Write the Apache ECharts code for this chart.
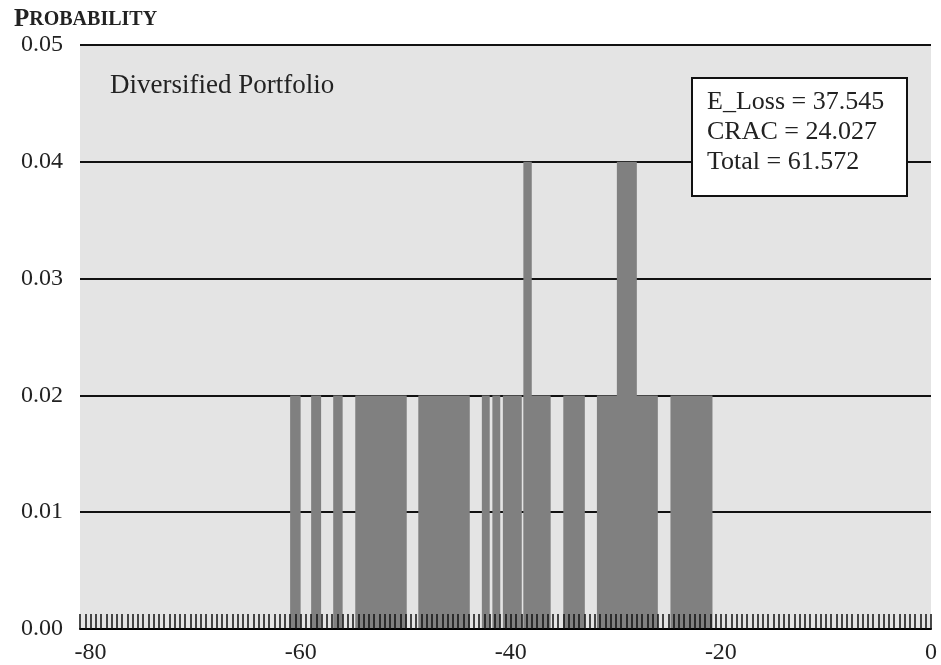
<!DOCTYPE html>
<html>
<head>
<meta charset="utf-8">
<script src="https://cdn.jsdelivr.net/npm/echarts@6/dist/echarts.min.js"></script>
<style>
  html, body { margin: 0; padding: 0; background: #ffffff; }
  #chart { width: 941px; height: 665px; }
</style>
</head>
<body>
<div id="chart"></div>
<script>
// ---- data ----
const binStart = [-61.0, -59.0, -56.9, -54.8, -48.8, -42.75, -41.75, -40.75, -38.75, -38.8, -35.0, -31.8, -29.9, -24.8];
const binEnd   = [-60.0, -58.05, -56.0, -49.9, -43.9, -42.0, -41.0, -38.95, -36.2, -38.0, -32.95, -26.0, -28.0, -20.8];
const prob     = [0.02, 0.02, 0.02, 0.02, 0.02, 0.02, 0.02, 0.02, 0.02, 0.04, 0.02, 0.02, 0.04, 0.02];
const xLabelValues = [-80, -60, -40, -20, 0];
const statNames  = ['E_Loss', 'CRAC', 'Total'];
const statValues = ['37.545', '24.027', '61.572'];
const panelTitle = 'Diversified Portfolio';
const yTitle = 'PROBABILITY';

const serif = '"Liberation Serif", "DejaVu Serif", serif';
const data = binStart.map((s, i) => [s, binEnd[i], prob[i]]);

const chart = echarts.init(document.getElementById('chart'), null, { renderer: 'canvas' });
chart.setOption({
  animation: false,
  backgroundColor: '#ffffff',
  grid: {
    left: 80, right: 10, top: 45, bottom: 35,
    show: true, backgroundColor: '#e4e4e4', borderWidth: 0
  },
  xAxis: {
    type: 'value',
    min: -81, max: 0, interval: 0.5,
    z: 5,
    axisLine: { show: true, onZero: false, lineStyle: { color: '#000', width: 2 } },
    axisTick: { show: true, inside: true, length: 15, lineStyle: { color: '#111', width: 1.5 } },
    splitLine: { show: false },
    axisLabel: {
      interval: 0,
      margin: 12,
      fontFamily: serif, fontSize: 24, color: '#222',
      formatter: v => (xLabelValues.includes(v) ? String(v) : '')
    }
  },
  yAxis: {
    type: 'value',
    min: 0, max: 0.05, interval: 0.01,
    axisLine: { show: false },
    axisTick: { show: false },
    splitLine: { show: true, lineStyle: { color: '#111', width: 1.8 } },
    axisLabel: {
      margin: 17,
      fontFamily: serif, fontSize: 24, color: '#222',
      formatter: v => v.toFixed(2)
    }
  },
  series: [{
    type: 'custom',
    data: data,
    encode: { x: [0, 1], y: 2 },
    renderItem: function (params, api) {
      const p0 = api.coord([api.value(0), api.value(2)]);
      const p1 = api.coord([api.value(1), 0]);
      return {
        type: 'rect',
        shape: { x: p0[0], y: p0[1], width: p1[0] - p0[0], height: p1[1] - p0[1] },
        style: { fill: '#808080' }
      };
    },
    z: 2
  }],
  graphic: [
    {
      type: 'text', left: 14, top: 7,
      style: {
        text: '{a|' + yTitle.charAt(0) + '}{b|' + yTitle.slice(1) + '}',
        rich: {
          a: { fontFamily: serif, fontSize: 25, fontWeight: 'bold', fill: '#222' },
          b: { fontFamily: serif, fontSize: 20, fontWeight: 'bold', fill: '#222' }
        }
      }
    },
    {
      type: 'text', left: 110, top: 72, z: 10,
      style: { text: panelTitle, fontFamily: serif, fontSize: 27, fill: '#222' }
    },
    {
      type: 'rect', left: 691, top: 77, z: 10,
      shape: { width: 215, height: 118 },
      style: { fill: '#ffffff', stroke: '#111', lineWidth: 2 }
    },
    {
      type: 'text', left: 707, top: 87, z: 11,
      style: {
        text: statNames.map((n, i) => n + ' = ' + statValues[i]).join('\n'),
        fontFamily: serif, fontSize: 26, lineHeight: 30, fill: '#222'
      }
    }
  ]
});
</script>
</body>
</html>
